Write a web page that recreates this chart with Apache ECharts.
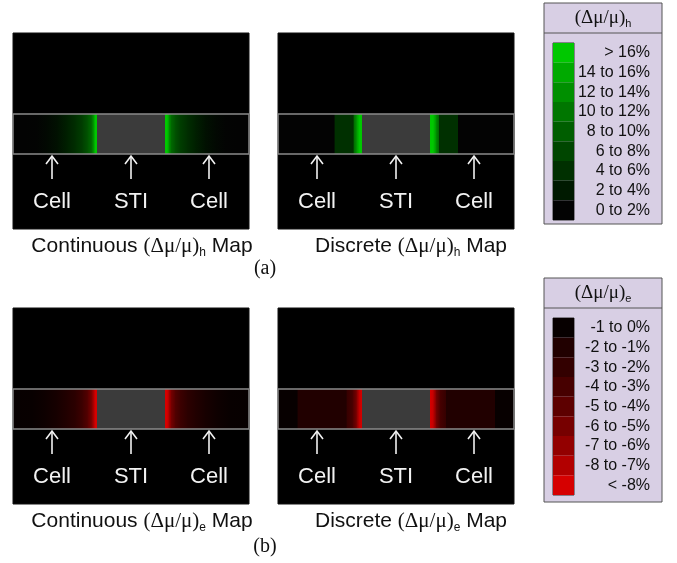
<!DOCTYPE html>
<html><head><meta charset="utf-8">
<script src="https://cdn.jsdelivr.net/npm/echarts@6/dist/echarts.min.js"></script>
<style>html,body{margin:0;padding:0;background:#fff}#c{width:677px;height:563px}</style>
</head><body><div id="c"></div>
<script>
// ---------------- data ----------------
const mapKinds = ['Continuous', 'Discrete', 'Continuous', 'Discrete'];
const mapSubs = ['h', 'h', 'e', 'e'];
const partLabels = ['(a)', '(b)'];
const markerLabels = ['Cell', 'STI', 'Cell'];
const markerPos = [39, 118, 196];            // position across the panel (panel units, 0..236)
const stiSpan = [84, 152];                   // STI region across the panel
const bandSpan = [81, 121];                  // band depth (panel units, 0..196 from top)

const greenLabels = ['> 16%', '14 to 16%', '12 to 14%', '10 to 12%', '8 to 10%', '6 to 8%', '4 to 6%', '2 to 4%', '0 to 2%'];
const greenColors = ['#00c800', '#00aa00', '#008f00', '#007600', '#005e00', '#004600', '#003000', '#001a00', '#030303'];
const redLabels = ['-1 to 0%', '-2 to -1%', '-3 to -2%', '-4 to -3%', '-5 to -4%', '-6 to -5%', '-7 to -6%', '-8 to -7%', '< -8%'];
const redColors = ['#070000', '#210000', '#330000', '#470000', '#5d0000', '#770000', '#930000', '#b20000', '#d60000'];

// profiles: [distance from STI edge, (Δμ/μ) in %]
const contHProfile = [[0, 18], [2, 17], [4, 13], [6, 10], [10, 8], [15, 6.3], [22, 4.8], [30, 3.5], [40, 2.2], [50, 1.5], [60, 1.05], [72, 0.7], [84, 0.5]];
const discHProfile = [[0, 18], [3, 17], [6, 13], [9, 9], [9, 5], [28, 5], [28, 1], [84, 1]];
const contEProfile = [[0, -9], [2, -8.8], [4, -7], [6, -5.5], [10, -4], [15, -3], [22, -2.1], [30, -1.55], [40, -1.1], [52, -0.78], [65, -0.55], [84, -0.4]];
const discEProfile = [[0, -9], [3, -8], [6, -5.5], [10, -3.5], [16, -2.5], [16, -1.5], [65, -1.5], [65, -0.5], [84, -0.5]];

// ---------------- helpers ----------------
const greenLowHigh = greenColors.slice().reverse();
function greenCol(v) { let t = (v / 2 - 0.5) / 8; t = Math.max(0, Math.min(1, t)); return echarts.color.lerp(t, greenLowHigh); }
function redCol(v) { let t = (Math.abs(v) - 0.5) / 8; t = Math.max(0, Math.min(1, t)); return echarts.color.lerp(t, redColors); }

function segmentsFrom(profile) {
  const segs = [];
  for (let i = 0; i < profile.length - 1; i++) {
    const [d0, v0] = profile[i], [d1, v1] = profile[i + 1];
    if (d1 <= d0) continue;
    segs.push([stiSpan[0] - d1, stiSpan[0] - d0, v1, v0]);
    segs.push([stiSpan[1] + d0, stiSpan[1] + d1, v0, v1]);
  }
  return segs;
}

const panels = [
  { left: 13, top: 33, prof: contHProfile, col: greenCol },
  { left: 278, top: 33, prof: discHProfile, col: greenCol },
  { left: 13, top: 308, prof: contEProfile, col: redCol },
  { left: 278, top: 308, prof: discEProfile, col: redCol }
];
const PW = 236, PH = 196;

const grid = [], xAxis = [], yAxis = [], series = [];
panels.forEach((p, gi) => {
  grid.push({ left: p.left, top: p.top, width: PW, height: PH, show: true, backgroundColor: '#000', borderColor: '#111', borderWidth: 1 });
  xAxis.push({ gridIndex: gi, type: 'value', min: 0, max: PW, show: false });
  yAxis.push({ gridIndex: gi, type: 'value', min: 0, max: PH, inverse: true, show: false });
  series.push({
    type: 'custom', xAxisIndex: gi, yAxisIndex: gi, z: 2, silent: true, clip: false,
    data: segmentsFrom(p.prof),
    renderItem: (params, api) => {
      const x0 = api.value(0), x1 = api.value(1), v0 = api.value(2), v1 = api.value(3);
      const a = api.coord([x0, bandSpan[0]]), b = api.coord([x1, bandSpan[1]]);
      return { type: 'rect', shape: { x: a[0], y: a[1], width: b[0] - a[0] + 0.6, height: b[1] - a[1] },
        style: { fill: new echarts.graphic.LinearGradient(0, 0, 1, 0, [{ offset: 0, color: p.col(v0) }, { offset: 1, color: p.col(v1) }]) } };
    }
  });
  series.push({
    type: 'custom', xAxisIndex: gi, yAxisIndex: gi, z: 3, silent: true, clip: false,
    data: [[stiSpan[0], stiSpan[1]]],
    renderItem: (params, api) => {
      const a = api.coord([api.value(0), bandSpan[0]]), b = api.coord([api.value(1), bandSpan[1]]);
      const l = api.coord([0, bandSpan[0]]), r = api.coord([PW, bandSpan[1]]);
      return { type: 'group', children: [
        { type: 'rect', shape: { x: a[0], y: a[1], width: b[0] - a[0], height: b[1] - a[1] }, style: { fill: '#3b3b3b' } },
        { type: 'rect', shape: { x: l[0], y: l[1], width: r[0] - l[0], height: r[1] - l[1] }, style: { fill: 'none', stroke: '#8a8a8a', lineWidth: 1.5 } }
      ] };
    }
  });
  series.push({
    type: 'custom', xAxisIndex: gi, yAxisIndex: gi, z: 4, silent: true, clip: false,
    data: markerPos.map((m, i) => [m, i]),
    renderItem: (params, api) => {
      const x = api.value(0), i = api.value(1);
      const top = api.coord([x, 123]), bot = api.coord([x, 146]), lab = api.coord([x, 169]);
      return { type: 'group', children: [
        { type: 'line', shape: { x1: top[0], y1: top[1], x2: bot[0], y2: bot[1] }, style: { stroke: '#f2f2f2', lineWidth: 1.6 } },
        { type: 'polyline', shape: { points: [[top[0] - 6, top[1] + 8], [top[0], top[1]], [top[0] + 6, top[1] + 8]] }, style: { stroke: '#f2f2f2', lineWidth: 1.6, fill: 'none' } },
        { type: 'text', x: lab[0], y: lab[1], style: { text: markerLabels[i], fill: '#f2f2f2', fontSize: 22, fontFamily: 'Liberation Sans', align: 'center', verticalAlign: 'middle' } }
      ] };
    }
  });
});

// legends as bar colour keys
const legends = [
  { top: 43, labels: greenLabels, colors: greenColors },
  { top: 318, labels: redLabels, colors: redColors }
];
legends.forEach((lg, k) => {
  const gi = grid.length;
  grid.push({ left: 553, top: lg.top, width: 21, height: 177, show: true, backgroundColor: 'transparent', borderColor: '#333', borderWidth: 1 });
  xAxis.push({ gridIndex: gi, type: 'value', min: 0, max: 1, show: false });
  yAxis.push({ gridIndex: gi, type: 'category', data: lg.labels, inverse: true, position: 'right',
    axisLine: { show: false }, axisTick: { show: false },
    axisLabel: { interval: 0, align: 'right', margin: 76, fontSize: 16, color: '#111', fontFamily: 'Liberation Sans' } });
  series.push({ type: 'bar', xAxisIndex: gi, yAxisIndex: gi, silent: true, barWidth: '100%', barCategoryGap: '0%',
    data: lg.colors.map(c => ({ value: 1, itemStyle: { color: c } })) });
});

function caption(x, y, word, sub) {
  return { type: 'text', x, y, z: 10, style: {
    text: '{n|' + word + ' }{g|(Δμ/μ)}{s|' + sub + '}{n| Map}',
    rich: { n: { fontSize: 21, fontFamily: 'Liberation Sans', fill: '#111', verticalAlign: 'middle' },
            g: { fontSize: 21, fontFamily: 'Liberation Serif', fill: '#111', verticalAlign: 'middle' },
            s: { fontSize: 12, fontFamily: 'Liberation Sans', fill: '#111', verticalAlign: 'middle', padding: [14, 0, 0, 0] } },
    align: 'center', verticalAlign: 'middle' } };
}
function legendBox(top, height, sub) {
  return [
    { type: 'rect', z: -1, shape: { x: 544, y: top, width: 118, height: height }, style: { fill: '#d8cfe4', stroke: '#555', lineWidth: 1 } },
    { type: 'line', z: 0, shape: { x1: 544, y1: top + 30, x2: 662, y2: top + 30 }, style: { stroke: '#555', lineWidth: 1 } },
    { type: 'text', z: 1, x: 603, y: top + 15, style: { text: '{g|(Δμ/μ)}{s|' + sub + '}',
      rich: { g: { fontSize: 19, fontFamily: 'Liberation Serif', fill: '#111', verticalAlign: 'middle' },
              s: { fontSize: 11, fontFamily: 'Liberation Sans', fill: '#111', verticalAlign: 'middle', padding: [12, 0, 0, 0] } },
      align: 'center', verticalAlign: 'middle' } }
  ];
}

const graphic = [
  caption(142, 246, mapKinds[0], mapSubs[0]),
  caption(411, 246, mapKinds[1], mapSubs[1]),
  caption(142, 521, mapKinds[2], mapSubs[2]),
  caption(411, 521, mapKinds[3], mapSubs[3]),
  { type: 'text', x: 265, y: 269, style: { text: partLabels[0], fontSize: 20, fontFamily: 'Liberation Serif', fill: '#111', align: 'center', verticalAlign: 'middle' } },
  { type: 'text', x: 265, y: 547, style: { text: partLabels[1], fontSize: 20, fontFamily: 'Liberation Serif', fill: '#111', align: 'center', verticalAlign: 'middle' } },
  ...legendBox(3, 221, 'h'),
  ...legendBox(278, 224, 'e')
];

const chart = echarts.init(document.getElementById('c'), null, { renderer: 'canvas' });
chart.setOption({ backgroundColor: '#fff', animation: false, grid, xAxis, yAxis, series, graphic });
</script></body></html>
